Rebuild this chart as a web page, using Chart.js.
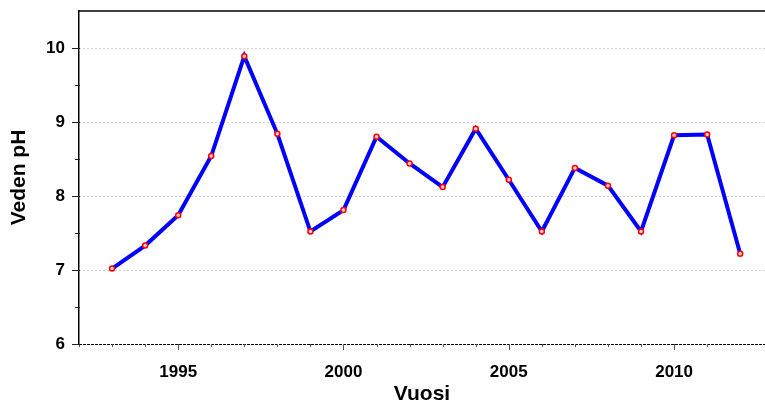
<!DOCTYPE html>
<html>
<head>
<meta charset="utf-8">
<script src="https://cdn.jsdelivr.net/npm/chart.js@4.4.0/dist/chart.umd.min.js"></script>
<style>
  html, body { margin: 0; padding: 0; background: #fff; }
</style>
</head>
<body>
<canvas id="phChart" width="765" height="400"></canvas>
<script>
const years = [1993, 1994, 1995, 1996, 1997, 1998, 1999, 2000, 2001, 2002,
               2003, 2004, 2005, 2006, 2007, 2008, 2009, 2010, 2011, 2012];
const phValues = [7.02, 7.33, 7.74, 8.54, 9.89, 8.84, 7.52, 7.81, 8.80, 8.44,
                  8.12, 8.91, 8.22, 7.52, 8.38, 8.14, 7.52, 8.82, 8.83, 7.22];
const xLabelYears = [1995, 2000, 2005, 2010];
const yLabelValues = [6, 7, 8, 9, 10];

const FONT = 'Liberation Sans, Arial, sans-serif';

// frame line on top, dashed bottom axis and the outward tick marks
const axisMarks = {
  id: 'axisMarks',
  afterDraw(chart) {
    const { ctx, chartArea: a, scales: { x, y } } = chart;
    const line = (x1, y1, x2, y2) => {
      ctx.beginPath();
      ctx.moveTo(x1, y1);
      ctx.lineTo(x2, y2);
      ctx.stroke();
    };
    ctx.save();
    ctx.strokeStyle = '#000';
    ctx.lineWidth = 1.5;
    line(a.left, a.top, a.right, a.top);

    ctx.lineWidth = 1;
    ctx.setLineDash([3, 1]);
    line(a.left, a.bottom + 0.5, a.right, a.bottom + 0.5);
    ctx.setLineDash([]);

    ctx.strokeStyle = '#555';
    x.ticks.forEach(t => {
      const px = Math.round(x.getPixelForValue(t.value)) + 0.5;
      const len = xLabelYears.includes(t.value) ? 6 : 3;
      line(px, a.bottom, px, a.bottom + len);
    });
    ctx.strokeStyle = '#222';
    y.ticks.forEach(t => {
      if (t.value >= y.max) return;
      const py = Math.round(y.getPixelForValue(t.value)) + 0.5;
      const len = yLabelValues.includes(t.value) ? 7 : 4;
      line(a.left - len, py, a.left + 1, py);
    });
    ctx.restore();
  }
};

new Chart(document.getElementById('phChart'), {
  type: 'line',
  data: {
    datasets: [{
      data: years.map((yr, i) => ({ x: yr, y: phValues[i] })),
      borderColor: '#0000ff',
      borderWidth: 4,
      tension: 0,
      pointRadius: 2.5,
      pointBorderWidth: 1.5,
      pointBorderColor: '#ff0000',
      pointBackgroundColor: '#ffd0d0'
    }]
  },
  options: {
    responsive: false,
    animation: false,
    layout: { autoPadding: false, padding: { top: 11, right: 0, left: 0, bottom: 0 } },
    plugins: { legend: { display: false }, tooltip: { enabled: false } },
    scales: {
      x: {
        type: 'linear',
        min: 1992,
        max: 2012.75,
        afterBuildTicks: s => { s.ticks = s.ticks.filter(t => Number.isInteger(t.value)); },
        afterFit: s => { s.height = 56; s.paddingLeft = 0; s.paddingRight = 0; },
        ticks: {
          stepSize: 1,
          autoSkip: false,
          maxRotation: 0,
          padding: 10,
          color: '#000',
          font: { family: FONT, size: 17, weight: 'bold' },
          callback: v => xLabelYears.includes(v) ? String(v) : ''
        },
        grid: { display: false },
        border: { display: false },
        title: {
          display: true,
          text: 'Vuosi',
          color: '#000',
          font: { family: FONT, size: 21, weight: 'bold', lineHeight: 1 },
          padding: { top: 0, bottom: -5 }
        }
      },
      y: {
        min: 6,
        max: 10.5,
        afterFit: s => { s.width = 79; s.paddingTop = 0; s.paddingBottom = 0; },
        ticks: {
          stepSize: 0.5,
          autoSkip: false,
          padding: 14,
          color: '#000',
          font: { family: FONT, size: 17, weight: 'bold' },
          callback: v => yLabelValues.includes(v) ? String(v) : ''
        },
        grid: {
          drawTicks: false,
          lineWidth: 1,
          color: c => (Number.isInteger(c.tick.value) && c.tick.value > 6 && c.tick.value < 10.5)
            ? '#aaaaaa' : 'rgba(0,0,0,0)'
        },
        border: { display: true, color: '#000', width: 1.5, dash: [1, 3] },
        title: {
          display: true,
          text: 'Veden pH',
          color: '#000',
          font: { family: FONT, size: 21, weight: 'bold', lineHeight: 1 },
          padding: { top: 9, bottom: 0 }
        }
      }
    }
  },
  plugins: [axisMarks]
});
</script>
</body>
</html>
